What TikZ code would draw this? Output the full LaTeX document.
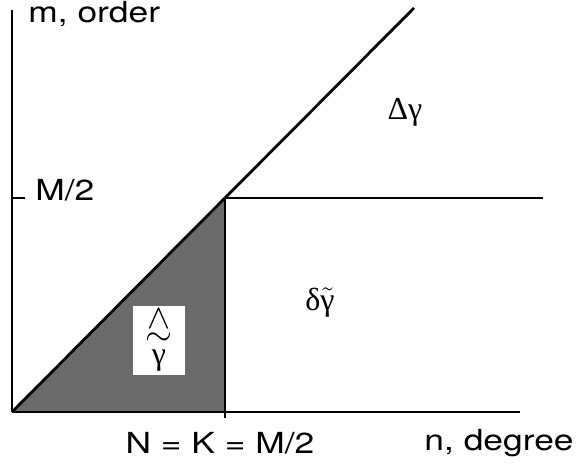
\documentclass[tikz,border=0pt]{standalone}
\usepackage{fontspec}
\setmainfont{TeX Gyre Heros}[FakeStretch=1.22]
\newfontfamily\grk{Liberation Serif}
\usetikzlibrary{patterns}

\begin{document}
\begin{tikzpicture}[
  x=0.5pt, y=0.5pt,
  axis/.style={line width=0.8pt, black},
  diag/.style={line width=1.4pt, black},
  rule/.style={line width=0.75pt, black},
  tick/.style={line width=0.6pt, black},
  shade/.style={fill=black!58},
  lab/.style={font=\fontsize{14.5}{16}\selectfont, inner sep=0pt},
  greek/.style={font=\grk\fontsize{16}{16}\selectfont, inner sep=0pt},
  hole/.style={fill=white, minimum width=26pt, minimum height=34.5pt,
               inner sep=0pt, align=center,
               font=\grk\fontsize{16}{8.5}\selectfont}]
\useasboundingbox (0,0) rectangle (576,471);

% ======================= frame points ==========================
\coordinate (orig) at (12,59);
\coordinate (ytop) at (12,461);
\coordinate (yhalf) at (12,273);
\coordinate (yhalfr) at (25,273);
\coordinate (corner) at (225,273);
\coordinate (cfoot) at (225,59);
\coordinate (ctick) at (225,53);
\coordinate (dtop) at (414,463);
\coordinate (hend) at (543,273);
\coordinate (xend) at (520,59);

% ===================== shaded triangle =========================
\fill[shade] (orig) -- (corner) -- (cfoot) -- cycle;
\node[hole] (gbox) at (159,131)
  {$\wedge$\\$\sim$\\[1pt]γ};

% ========================= lines ===============================
\draw[axis] (orig) -- (ytop);
\draw[tick] (yhalf) -- (yhalfr);
\draw[axis] (orig) -- (xend);
\draw[diag] (orig) -- (dtop);
\draw[rule] (corner) -- (hend);
\draw[rule] (corner) -- (ctick);

% ========================= labels ==============================
\node[lab, anchor=west] (mord) at (28,457) {m, order};
\node[lab, anchor=west] (mhalf) at (35,281) {M/2};
\node[greek] (dgam) at (405,359) {Δγ};
\node[greek] (dtgam) at (320,168) {δ$\tilde{\hbox{γ}}$};
\node[lab] (nkm) at (220,28) {N = K = M/2};
\node[lab, anchor=east] (ndeg) at (574,28) {n, degree};

\end{tikzpicture}
\end{document}
